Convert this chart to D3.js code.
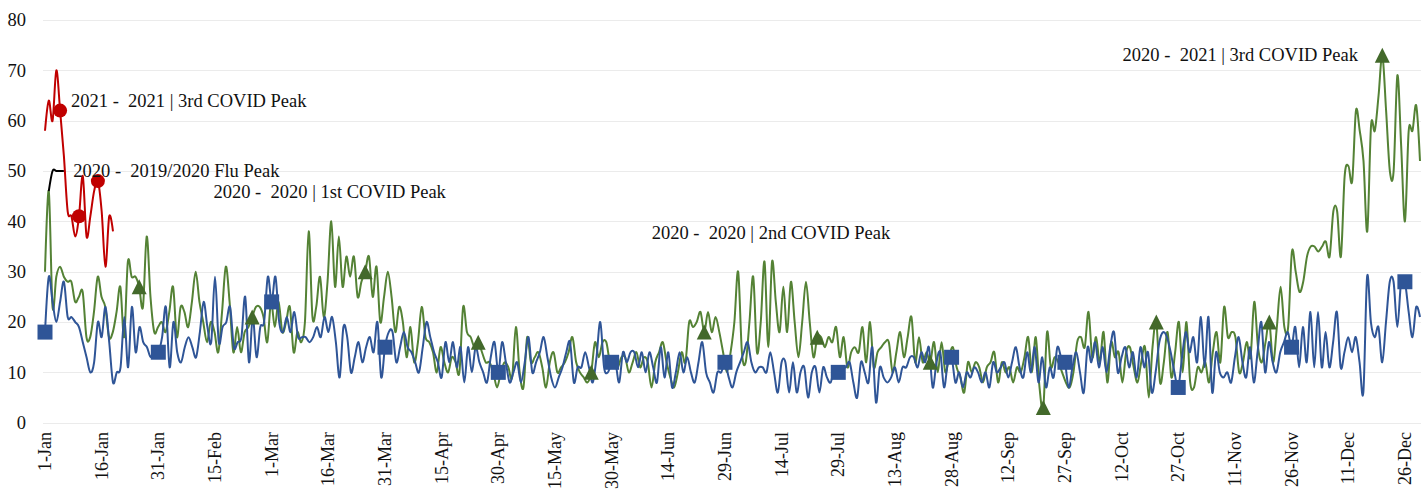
<!DOCTYPE html>
<html><head><meta charset="utf-8">
<script src="https://cdn.jsdelivr.net/npm/d3@7"></script>
<style>
html,body{margin:0;padding:0;background:#fff;}
svg{display:block;font-family:"Liberation Serif","Times New Roman",serif;}
</style>
</head><body>
<svg id="chart" width="1428" height="490"></svg>
<script>
// ---- data ----
const tickLabels = ["1-Jan","16-Jan","31-Jan","15-Feb","1-Mar","16-Mar","31-Mar","15-Apr","30-Apr","15-May","30-May","14-Jun","29-Jun","14-Jul","29-Jul","13-Aug","28-Aug","12-Sep","27-Sep","12-Oct","27-Oct","11-Nov","26-Nov","11-Dec","26-Dec"];
const tickStep = 15;
const yTicks = [0,10,20,30,40,50,60,70,80];

// 2019 (blue, squares) – 365 daily values
const series2019 = [
18,29,24,20,24,28,21,21,20,19,
16,13,10,12,20,17,23,16,8,10,
11,21,11,23,14,19,16,15,13,15,
14,17,23,11,20,14,12,15,17,15,
13,18,24,19,16,29,16,19,20,23,
15,16,17,25,12,21,13,19,20,29,
24,29,20,18,21,18,22,17,17,17,
16,17,19,17,21,18,21,16,9,19,
17,10,13,16,12,15,17,14,20,9,
15,18,18,12,15,18,15,14,12,10,
15,20,17,14,12,9,16,12,16,11,
15,8,15,10,15,12,10,8,13,16,
10,16,12,8,10,12,8,12,17,10,
12,14,17,13,9,7,9,11,14,16,
8,11,11,14,11,8,13,20,11,10,
12,12,8,14,12,14,14,11,14,10,
14,11,8,15,9,14,7,10,14,10,
13,10,8,12,16,10,8,6,10,10,
12,9,7,10,12,14,16,12,10,11,
11,10,14,10,6,12,12,6,12,6,
10,11,5,10,11,6,11,9,8,11,
10,11,11,12,8,5,12,10,8,15,
4,11,9,8,9,11,8,11,11,13,
13,11,14,12,15,7,12,14,7,12,
13,8,10,7,10,9,11,10,8,10,
7,12,10,11,12,9,12,15,11,9,
14,10,15,8,13,7,11,9,15,13,
12,7,11,14,10,6,15,12,16,11,
15,10,15,18,10,13,15,11,14,9,
15,11,14,6,10,16,18,17,14,10,
7,13,18,14,17,12,21,11,21,6,
14,10,9,10,8,13,17,12,9,15,
8,14,20,10,16,12,10,14,16,18,
15,19,11,19,12,22,11,22,11,18,
11,16,22,11,14,17,14,17,12,6,
29,20,17,19,12,20,28,28,19,28,
28,22,17,23,21
];

// 2020 (green, triangles) – 366 daily values
const series2020 = [
30,46,23,29,31,29,28,28,24,25,
26,17,17,22,29,25,23,17,18,22,
27,17,32,29,29,27,23,37,25,18,
19,20,18,22,27,17,23,22,19,24,
30,24,20,16,20,18,14,22,31,24,
14,19,14,18,19,21,23,23,21,16,
24,19,24,18,20,23,14,18,16,20,
38,21,23,29,21,28,40,27,37,27,
33,29,33,25,28,30,33,25,31,20,
25,30,25,18,23,20,13,19,12,16,
23,17,16,14,10,15,12,10,13,12,
10,23,18,17,15,16,14,12,12,10,
7,10,12,11,9,19,10,7,17,12,
13,14,11,7,12,14,10,11,12,14,
17,12,10,9,8,10,16,13,16,16,
12,13,11,13,13,10,12,14,11,13,
12,7,12,14,16,12,9,7,10,14,
12,20,19,20,22,18,22,18,21,18,
14,10,14,20,30,14,12,20,29,14,
20,32,15,32,24,18,27,18,28,20,
13,20,28,20,13,17,17,15,17,16,
19,13,17,11,14,15,14,19,12,20,
11,14,15,16,16,10,14,18,13,17,
21,12,17,12,14,12,16,10,16,10,
13,15,11,9,6,12,10,12,11,8,
11,12,14,8,12,10,11,8,11,10,
13,17,10,17,7,3,18,11,13,12,
10,8,7,10,16,17,15,22,13,17,
12,18,8,16,13,14,8,14,15,11,
8,12,15,5,15,20,8,12,18,9,
14,20,10,20,8,7,11,10,12,8,
14,18,12,23,17,18,17,10,12,16,
13,24,15,12,16,20,12,19,27,19,
19,34,30,26,28,33,35,35,34,35,
36,33,42,42,33,49,51,48,62,58,
52,38,59,58,65,73,62,50,50,69,
55,40,58,58,63,52
];

// 2021 (red, circles)
const series2021 = [58,64,60,70,62,53,42,41,37,41,49,37,41,46,48,42,31,41,38];

// 2019/2020 flu peak (black) – starts on day index 1
const fluStart = 1;
const fluPeak = [46,50,50,50,50];

// which points carry markers
const markers2019 = [0,30,60,90,120,150,180,210,240,270,300,330,360];
const markers2020 = [25,55,85,115,145,175,205,235,265,295,325,355];
const markers2021 = [4,9,14];

// annotations (data coordinates on the 2019 day axis)
const annoText  = ["2021 -  2021 | 3rd COVID Peak","2020 -  2019/2020 Flu Peak","2020 -  2020 | 1st COVID Peak","2020 -  2020 | 2nd COVID Peak","2020 -  2021 | 3rd COVID Peak"];
const annoDay   = [6.9, 7.5, 44.6, 160.6, 347.6];
const annoValue = [64, 50, 45.9, 37.7, 73.1];
const annoAnchor= ["start","start","start","start","end"];

// ---- drawing ----
const svg = d3.select("#chart");
const plotL = 45, plotR = 1420, gridL = 43, gridR = 1421;
const plotT = 20, plotB = 422.7;

const x19 = d3.scaleLinear().domain([0, series2019.length - 1]).range([plotL, plotR]);
const x20 = d3.scaleLinear().domain([0, series2020.length - 1]).range([plotL, plotR]);
const y = d3.scaleLinear().domain([0, 80]).range([plotB, plotT]);

const fontPx = 18.5;
const tickFontPx = 18;

// gridlines
svg.append("g").selectAll("line").data(yTicks).join("line")
  .attr("x1", gridL).attr("x2", gridR)
  .attr("y1", d => Math.round(y(d)) + 0.5).attr("y2", d => Math.round(y(d)) + 0.5)
  .attr("stroke", "#ebebeb").attr("stroke-width", 1);

// y labels
svg.append("g").selectAll("text").data(yTicks).join("text")
  .attr("x", 26).attr("y", d => y(d)).attr("dy", "0.34em")
  .attr("text-anchor", "end").attr("font-size", fontPx).attr("fill", "#111")
  .text(d => d);

// x labels
svg.append("g").selectAll("text").data(tickLabels).join("text")
  .attr("transform", (d, i) => `translate(${x19(i * tickStep)},432) rotate(-90)`)
  .attr("dy", "0.34em").attr("text-anchor", "end")
  .attr("font-size", tickFontPx).attr("fill", "#111")
  .text(d => d);

const curve = d3.curveCardinal.tension(0);

function drawLine(data, xs, color, offset = 0) {
  const line = d3.line().x((d, i) => xs(i + offset)).y(d => y(d)).curve(curve);
  svg.append("path").datum(data).attr("d", line)
    .attr("fill", "none").attr("stroke", color).attr("stroke-width", 2)
    .attr("stroke-linejoin", "round");
}

const blue = "#2F5597", green = "#548235", greenMk = "#43692B", red = "#C00000";

drawLine(series2020, x20, green);
drawLine(series2019, x19, blue);
drawLine(fluPeak, x19, "#000000", fluStart);
drawLine(series2021, x19, red);

// triangle symbol centred on its bounding box (Excel style)
const boxTriangle = {
  draw(ctx, size) {
    const w = Math.sqrt(size), h = w;
    ctx.moveTo(0, -h / 2);
    ctx.lineTo(w / 2, h / 2);
    ctx.lineTo(-w / 2, h / 2);
    ctx.closePath();
  }
};

// markers
svg.append("g").selectAll("path").data(markers2019).join("path")
  .attr("transform", i => `translate(${x19(i)},${y(series2019[i])})`)
  .attr("d", d3.symbol(d3.symbolSquare, 225)())
  .attr("fill", blue);

svg.append("g").selectAll("path").data(markers2020).join("path")
  .attr("transform", i => `translate(${x20(i)},${y(series2020[i])})`)
  .attr("d", d3.symbol(boxTriangle, 225)())
  .attr("fill", greenMk);

svg.append("g").selectAll("circle").data(markers2021).join("circle")
  .attr("cx", i => x19(i)).attr("cy", i => y(series2021[i])).attr("r", 7)
  .attr("fill", red);

// annotations
svg.append("g").selectAll("text").data(annoText).join("text")
  .attr("x", (d, i) => x19(annoDay[i])).attr("y", (d, i) => y(annoValue[i]))
  .attr("dy", "0.34em").attr("text-anchor", (d, i) => annoAnchor[i])
  .attr("font-size", fontPx).attr("fill", "#111")
  .style("white-space", "pre")
  .text(d => d);
</script>
</body></html>
